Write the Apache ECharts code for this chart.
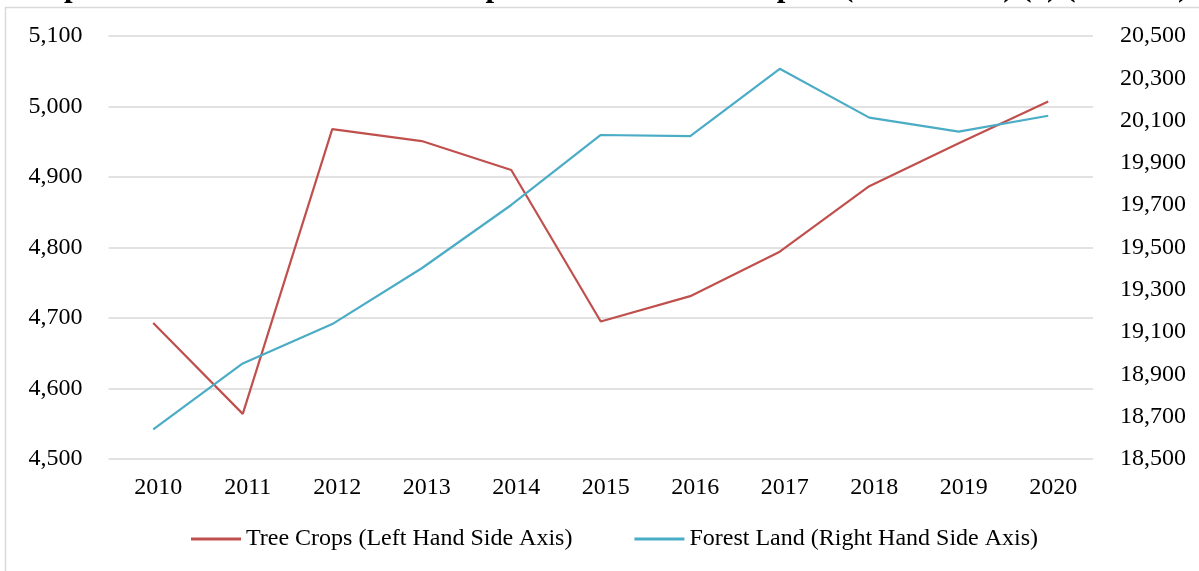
<!DOCTYPE html>
<html>
<head>
<meta charset="utf-8">
<script src="https://cdn.jsdelivr.net/npm/echarts@6/dist/echarts.min.js"></script>
<style>
  html, body { margin: 0; padding: 0; background: #fff; }
  #chart { width: 1199px; height: 571px; }
</style>
</head>
<body>
<div id="chart"></div>
<script>
// years on the x axis
const years = ["2010", "2011", "2012", "2013", "2014", "2015", "2016", "2017", "2018", "2019", "2020"];
// thousand ha, left axis
const treeCrops = [4693, 4564, 4968, 4951, 4910, 4695, 4731, 4794, 4887, 4948, 5007];
// thousand ha, right axis
const forestLand = [18640, 18952, 19138, 19402, 19701, 20032, 20027, 20345, 20114, 20048, 20123];

const titleText = "Graph 4: Forest Land and Tree Crop Land Evolution in Spain (2010 - 2020) (*) ('000 Ha)";
const font = "Liberation Serif";

let myChart = echarts.init(document.getElementById("chart"));

let option = {
  backgroundColor: "#fff",
  animation: false,
  textStyle: { fontFamily: font, color: "#000" },
  title: {
    text: titleText,
    left: "center",
    top: -33,
    textStyle: { fontFamily: font, fontSize: 31, fontWeight: "bold", color: "#000" }
  },
  graphic: [
    {
      type: "rect",
      shape: { x: 5.5, y: 7.5, width: 1300, height: 700 },
      style: { fill: "none", stroke: "#d9d9d9", lineWidth: 1.5 },
      silent: true
    }
  ],
  grid: { left: 108.5, right: 106, top: 36, bottom: 112 },
  legend: {
    top: 522,
    left: 186,
    icon: "rect",
    itemWidth: 50,
    itemHeight: 3,
    itemGap: 62,
    textStyle: { fontFamily: font, fontSize: 24, color: "#000" },
    data: ["Tree Crops (Left Hand Side Axis)", "Forest Land (Right Hand Side Axis)"]
  },
  xAxis: {
    type: "category",
    data: years,
    axisLine: { show: false },
    axisTick: { show: false },
    axisLabel: { fontFamily: font, fontSize: 24, color: "#000", margin: 17, padding: [0, 0, 0, 10] }
  },
  yAxis: [
    {
      type: "value",
      min: 4500,
      max: 5100,
      interval: 100,
      axisLine: { show: false },
      axisTick: { show: false },
      splitLine: { show: true, lineStyle: { color: "#d9d9d9", width: 1.5 } },
      axisLabel: {
        fontFamily: font, fontSize: 24, color: "#000", margin: 26,
        formatter: v => v.toLocaleString("en-US")
      }
    },
    {
      type: "value",
      min: 18500,
      max: 20500,
      interval: 200,
      axisLine: { show: false },
      axisTick: { show: false },
      splitLine: { show: false },
      axisLabel: {
        fontFamily: font, fontSize: 24, color: "#000", margin: 27,
        formatter: v => v.toLocaleString("en-US")
      }
    }
  ],
  series: [
    {
      name: "Tree Crops (Left Hand Side Axis)",
      type: "line",
      yAxisIndex: 0,
      symbol: "none",
      lineStyle: { color: "#c0504d", width: 2.2 },
      itemStyle: { color: "#c0504d" },
      data: treeCrops
    },
    {
      name: "Forest Land (Right Hand Side Axis)",
      type: "line",
      yAxisIndex: 1,
      symbol: "none",
      lineStyle: { color: "#4bacc6", width: 2.2 },
      itemStyle: { color: "#4bacc6" },
      data: forestLand
    }
  ]
};

myChart.setOption(option);
</script>
</body>
</html>
